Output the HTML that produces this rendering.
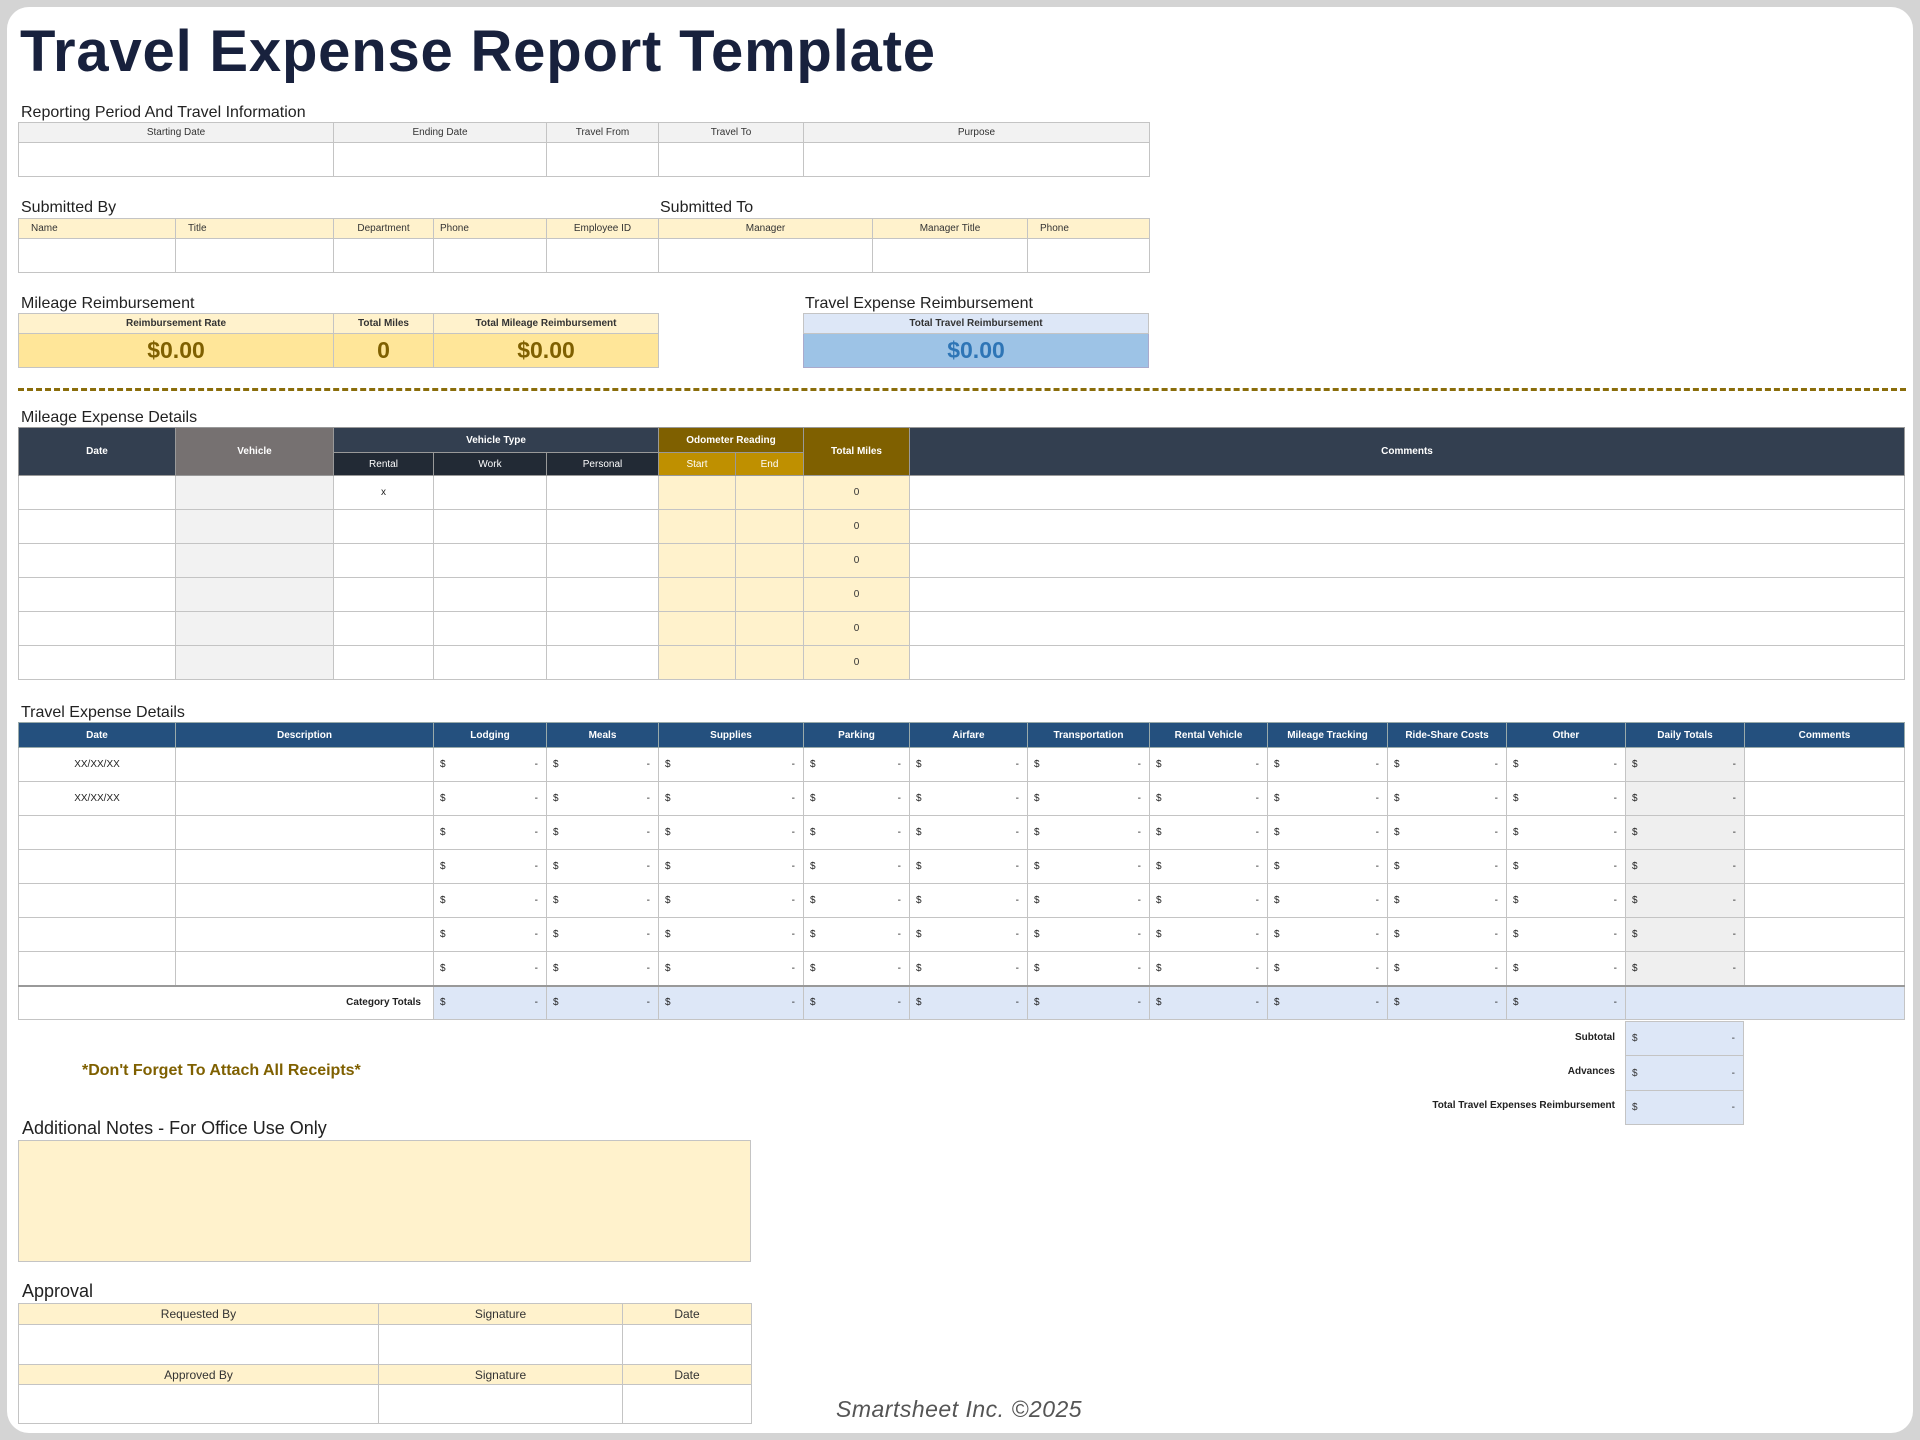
<!DOCTYPE html>
<html><head><meta charset="utf-8"><style>
*{box-sizing:border-box;margin:0;padding:0}
body{width:1920px;height:1440px;background:#d4d4d4;font-family:"Liberation Sans",sans-serif;position:relative;overflow:hidden;color:#222}
#pg{position:absolute;left:7px;top:7px;width:1906px;height:1426px;background:#fff;border-radius:22px}
.a{position:absolute}
h1{position:absolute;left:20px;top:18px;font-size:58px;font-weight:bold;color:#18213d;letter-spacing:0.8px;white-space:nowrap}
.lb{position:absolute;font-size:16px;color:#222;white-space:nowrap}
table{position:absolute;border-collapse:collapse;table-layout:fixed}
td{border:1px solid #c4c4c4;font-size:10px;text-align:center;vertical-align:middle;overflow:hidden;white-space:nowrap;padding:0}
.g td.h{background:#f2f2f2;color:#333}
.y{background:#fff2cc;color:#333}
.yy{background:#ffe699;color:#7f6000;font-size:23px;font-weight:bold}
.b1{background:#dde7f7;color:#333;font-weight:bold}
.b2{background:#9dc3e6;color:#2e75b6;font-size:23px;font-weight:bold}
.nv{background:#333f50;color:#fff;font-weight:bold;border-color:#999}
.nv2{background:#222a35;color:#fff;border-color:#999}
.gr{background:#767171;color:#fff;font-weight:bold;border-color:#999}
.br{background:#7f6000;color:#fff;font-weight:bold;border-color:#999}
.br2{background:#bf9000;color:#fff;border-color:#999}
.lg{background:#f2f2f2}
.tb{background:#24507e;color:#fff;font-weight:bold;border-color:#9aa}
.m{text-align:left;padding:0 8px 0 6px}
.m i{float:right;font-style:normal}
.dt{background:#efefef}
.ct td{background:#dde7f7;border-top:2px solid #999}
.ct td.w{background:#fff}
.bold{font-weight:bold}
</style></head><body><div id="pg"></div>
<h1>Travel Expense Report Template</h1>

<div class="lb" style="left:21px;top:104px">Reporting Period And Travel Information</div>
<table class="g" style="left:18px;top:122px;width:1131px">
<colgroup><col style="width:315px"><col style="width:213px"><col style="width:112px"><col style="width:145px"><col style="width:346px"></colgroup>
<tr style="height:20px"><td class="h">Starting Date</td><td class="h">Ending Date</td><td class="h">Travel From</td><td class="h">Travel To</td><td class="h">Purpose</td></tr>
<tr style="height:34px"><td></td><td></td><td></td><td></td><td></td></tr></table>

<div class="lb" style="left:21px;top:199px">Submitted By</div>
<div class="lb" style="left:660px;top:199px">Submitted To</div>
<table style="left:18px;top:218px;width:1131px">
<colgroup><col style="width:157px"><col style="width:158px"><col style="width:100px"><col style="width:113px"><col style="width:112px"><col style="width:214px"><col style="width:155px"><col style="width:122px"></colgroup>
<tr style="height:20px"><td class="y" style="text-align:left;padding-left:12px">Name</td><td class="y" style="text-align:left;padding-left:12px">Title</td><td class="y">Department</td><td class="y" style="text-align:left;padding-left:6px">Phone</td><td class="y">Employee ID</td><td class="y">Manager</td><td class="y">Manager Title</td><td class="y" style="text-align:left;padding-left:12px">Phone</td></tr>
<tr style="height:34px"><td></td><td></td><td></td><td></td><td></td><td></td><td></td><td></td></tr></table>

<div class="lb" style="left:21px;top:295px">Mileage Reimbursement</div>
<table style="left:18px;top:313px;width:640px">
<colgroup><col style="width:315px"><col style="width:100px"><col style="width:225px"></colgroup>
<tr style="height:20px"><td class="y bold">Reimbursement Rate</td><td class="y bold">Total Miles</td><td class="y bold">Total Mileage Reimbursement</td></tr>
<tr style="height:34px"><td class="yy">$0.00</td><td class="yy">0</td><td class="yy">$0.00</td></tr></table>

<div class="lb" style="left:805px;top:295px">Travel Expense Reimbursement</div>
<table style="left:803px;top:313px;width:346px">
<tr style="height:20px"><td class="b1">Total Travel Reimbursement</td></tr>
<tr style="height:34px"><td class="b2" style="border-color:#aac">$0.00</td></tr></table>

<div class="a" style="left:18px;top:388px;width:1888px;border-top:3px dashed #8a6d0b"></div>

<div class="lb" style="left:21px;top:409px">Mileage Expense Details</div>
<table style="left:18px;top:427px;width:1886px">
<colgroup><col style="width:157px"><col style="width:158px"><col style="width:100px"><col style="width:113px"><col style="width:112px"><col style="width:77px"><col style="width:68px"><col style="width:106px"><col style="width:995px"></colgroup>
<tr style="height:25px"><td class="nv" rowspan="2">Date</td><td class="gr" rowspan="2">Vehicle</td><td class="nv" colspan="3">Vehicle Type</td><td class="br" colspan="2">Odometer Reading</td><td class="br" rowspan="2">Total Miles</td><td class="nv" rowspan="2">Comments</td></tr>
<tr style="height:23px"><td class="nv2">Rental</td><td class="nv2">Work</td><td class="nv2">Personal</td><td class="br2">Start</td><td class="br2">End</td></tr>
<tr style="height:34px"><td></td><td class="lg"></td><td>x</td><td></td><td></td><td class="y"></td><td class="y"></td><td class="y">0</td><td></td></tr>
<tr style="height:34px"><td></td><td class="lg"></td><td></td><td></td><td></td><td class="y"></td><td class="y"></td><td class="y">0</td><td></td></tr>
<tr style="height:34px"><td></td><td class="lg"></td><td></td><td></td><td></td><td class="y"></td><td class="y"></td><td class="y">0</td><td></td></tr>
<tr style="height:34px"><td></td><td class="lg"></td><td></td><td></td><td></td><td class="y"></td><td class="y"></td><td class="y">0</td><td></td></tr>
<tr style="height:34px"><td></td><td class="lg"></td><td></td><td></td><td></td><td class="y"></td><td class="y"></td><td class="y">0</td><td></td></tr>
<tr style="height:34px"><td></td><td class="lg"></td><td></td><td></td><td></td><td class="y"></td><td class="y"></td><td class="y">0</td><td></td></tr>
</table>

<div class="lb" style="left:21px;top:704px">Travel Expense Details</div>
<table style="left:18px;top:722px;width:1886px">
<colgroup><col style="width:157px"><col style="width:258px"><col style="width:113px"><col style="width:112px"><col style="width:145px"><col style="width:106px"><col style="width:118px"><col style="width:122px"><col style="width:118px"><col style="width:120px"><col style="width:119px"><col style="width:119px"><col style="width:119px"><col style="width:160px"></colgroup>
<tr style="height:25px"><td class="tb">Date</td><td class="tb">Description</td><td class="tb">Lodging</td><td class="tb">Meals</td><td class="tb">Supplies</td><td class="tb">Parking</td><td class="tb">Airfare</td><td class="tb">Transportation</td><td class="tb">Rental Vehicle</td><td class="tb">Mileage Tracking</td><td class="tb">Ride-Share Costs</td><td class="tb">Other</td><td class="tb">Daily Totals</td><td class="tb">Comments</td></tr>
<tr style="height:34px"><td>XX/XX/XX</td><td></td><td class="m">$<i>-</i></td><td class="m">$<i>-</i></td><td class="m">$<i>-</i></td><td class="m">$<i>-</i></td><td class="m">$<i>-</i></td><td class="m">$<i>-</i></td><td class="m">$<i>-</i></td><td class="m">$<i>-</i></td><td class="m">$<i>-</i></td><td class="m">$<i>-</i></td><td class="m dt">$<i>-</i></td><td></td></tr>
<tr style="height:34px"><td>XX/XX/XX</td><td></td><td class="m">$<i>-</i></td><td class="m">$<i>-</i></td><td class="m">$<i>-</i></td><td class="m">$<i>-</i></td><td class="m">$<i>-</i></td><td class="m">$<i>-</i></td><td class="m">$<i>-</i></td><td class="m">$<i>-</i></td><td class="m">$<i>-</i></td><td class="m">$<i>-</i></td><td class="m dt">$<i>-</i></td><td></td></tr>
<tr style="height:34px"><td></td><td></td><td class="m">$<i>-</i></td><td class="m">$<i>-</i></td><td class="m">$<i>-</i></td><td class="m">$<i>-</i></td><td class="m">$<i>-</i></td><td class="m">$<i>-</i></td><td class="m">$<i>-</i></td><td class="m">$<i>-</i></td><td class="m">$<i>-</i></td><td class="m">$<i>-</i></td><td class="m dt">$<i>-</i></td><td></td></tr>
<tr style="height:34px"><td></td><td></td><td class="m">$<i>-</i></td><td class="m">$<i>-</i></td><td class="m">$<i>-</i></td><td class="m">$<i>-</i></td><td class="m">$<i>-</i></td><td class="m">$<i>-</i></td><td class="m">$<i>-</i></td><td class="m">$<i>-</i></td><td class="m">$<i>-</i></td><td class="m">$<i>-</i></td><td class="m dt">$<i>-</i></td><td></td></tr>
<tr style="height:34px"><td></td><td></td><td class="m">$<i>-</i></td><td class="m">$<i>-</i></td><td class="m">$<i>-</i></td><td class="m">$<i>-</i></td><td class="m">$<i>-</i></td><td class="m">$<i>-</i></td><td class="m">$<i>-</i></td><td class="m">$<i>-</i></td><td class="m">$<i>-</i></td><td class="m">$<i>-</i></td><td class="m dt">$<i>-</i></td><td></td></tr>
<tr style="height:34px"><td></td><td></td><td class="m">$<i>-</i></td><td class="m">$<i>-</i></td><td class="m">$<i>-</i></td><td class="m">$<i>-</i></td><td class="m">$<i>-</i></td><td class="m">$<i>-</i></td><td class="m">$<i>-</i></td><td class="m">$<i>-</i></td><td class="m">$<i>-</i></td><td class="m">$<i>-</i></td><td class="m dt">$<i>-</i></td><td></td></tr>
<tr style="height:34px"><td></td><td></td><td class="m">$<i>-</i></td><td class="m">$<i>-</i></td><td class="m">$<i>-</i></td><td class="m">$<i>-</i></td><td class="m">$<i>-</i></td><td class="m">$<i>-</i></td><td class="m">$<i>-</i></td><td class="m">$<i>-</i></td><td class="m">$<i>-</i></td><td class="m">$<i>-</i></td><td class="m dt">$<i>-</i></td><td></td></tr>
<tr class="ct" style="height:34px"><td class="w bold" colspan="2" style="text-align:right;padding-right:12px">Category Totals</td><td class="m">$<i>-</i></td><td class="m">$<i>-</i></td><td class="m">$<i>-</i></td><td class="m">$<i>-</i></td><td class="m">$<i>-</i></td><td class="m">$<i>-</i></td><td class="m">$<i>-</i></td><td class="m">$<i>-</i></td><td class="m">$<i>-</i></td><td class="m">$<i>-</i></td><td colspan="2"></td></tr>
</table>

<div class="a bold" style="left:1200px;top:1021px;width:415px;font-size:10px;text-align:right;line-height:34px">Subtotal<br>Advances<br>Total Travel Expenses Reimbursement</div>
<table style="left:1625px;top:1021px;width:119px">
<tr style="height:34px"><td class="m b1" style="font-weight:normal">$<i>-</i></td></tr>
<tr style="height:35px"><td class="m b1" style="font-weight:normal">$<i>-</i></td></tr>
<tr style="height:34px"><td class="m b1" style="font-weight:normal">$<i>-</i></td></tr></table>

<div class="a bold" style="left:82px;top:1062px;font-size:16px;color:#7f6000">*Don't Forget To Attach All Receipts*</div>

<div class="lb" style="left:22px;top:1118px;font-size:18px">Additional Notes - For Office Use Only</div>
<div class="a" style="left:18px;top:1140px;width:733px;height:122px;background:#fff2cc;border:1px solid #c4c4c4"></div>

<div class="lb" style="left:22px;top:1281px;font-size:18px">Approval</div>
<table style="left:18px;top:1303px;width:733px">
<colgroup><col style="width:360px"><col style="width:244px"><col style="width:129px"></colgroup>
<tr style="height:21px"><td class="y" style="font-size:12px">Requested By</td><td class="y" style="font-size:12px">Signature</td><td class="y" style="font-size:12px">Date</td></tr>
<tr style="height:40px"><td></td><td></td><td></td></tr>
<tr style="height:20px"><td class="y" style="font-size:12px">Approved By</td><td class="y" style="font-size:12px">Signature</td><td class="y" style="font-size:12px">Date</td></tr>
<tr style="height:39px"><td></td><td></td><td></td></tr></table>

<div class="a" style="left:836px;top:1396px;font-size:23px;font-style:italic;color:#555;letter-spacing:0.5px">Smartsheet Inc. ©2025</div>
</body></html>
